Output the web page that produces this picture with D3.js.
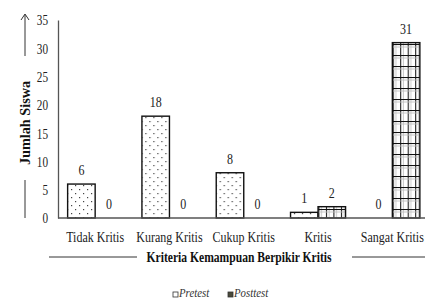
<!doctype html>
<html lang="en">
<head>
  <meta charset="utf-8" />
  <title>Kriteria Kemampuan Berpikir Kritis</title>
  <script src="https://d3js.org/d3.v7.min.js"></script>
  <style>
    body { margin: 0; background: #fff; }
    svg text { font-family: "Liberation Serif", "Times New Roman", Times, "DejaVu Serif", serif; }
  </style>
</head>
<body>
  <figure id="bar-chart" style="margin:0"></figure>
  <script>
    // data
    const categories = ["Tidak Kritis", "Kurang Kritis", "Cukup Kritis", "Kritis", "Sangat Kritis"];
    const pretest = [6, 18, 8, 1, 0];
    const posttest = [0, 0, 0, 2, 31];
    const seriesNames = ["Pretest", "Posttest"];
    const yTicks = [0, 5, 10, 15, 20, 25, 30, 35];

    const params = {
      width: 425,
      height: 306,
      left: 58,
      top: 20,
      bottom: 218,
      step: 74.3,
      squeeze: 0.8 // text in the source is narrow
    };

    const svg = d3.select("#bar-chart").append("svg")
      .attr("width", params.width)
      .attr("height", params.height);

    /* place a horizontally squeezed text */
    function narrowText(sel, x, y) {
      return sel.attr("transform", d =>
        "translate(" + (typeof x === "function" ? x(d) : x) + "," +
        (typeof y === "function" ? y(d) : y) + ") scale(" + params.squeeze + ",1)");
    }

    /* fill patterns: dotted for pretest, grid for posttest */
    const defs = svg.append("defs");
    const dots = defs.append("pattern")
      .attr("id", "dots")
      .attr("patternUnits", "userSpaceOnUse")
      .attr("width", 8).attr("height", 8);
    dots.append("rect").attr("width", 8).attr("height", 8).attr("fill", "#fff");
    dots.append("rect").attr("x", 1).attr("y", 1).attr("width", 1.2).attr("height", 1.2).attr("fill", "#444");
    dots.append("rect").attr("x", 5).attr("y", 5).attr("width", 1.2).attr("height", 1.2).attr("fill", "#444");

    const grid = defs.append("pattern")
      .attr("id", "grid")
      .attr("patternUnits", "userSpaceOnUse")
      .attr("width", 7.5).attr("height", 11);
    grid.append("rect").attr("width", 7.5).attr("height", 11).attr("fill", "#fff");
    grid.append("line").attr("x1", 0.5).attr("x2", 0.5).attr("y1", 0).attr("y2", 11)
      .attr("stroke", "#111").attr("stroke-width", 1.1);
    grid.append("line").attr("x1", 3.2).attr("x2", 3.2).attr("y1", 0).attr("y2", 11)
      .attr("stroke", "#bbb").attr("stroke-width", 0.8);
    grid.append("line").attr("x1", 0).attr("x2", 7.5).attr("y1", 0.5).attr("y2", 0.5)
      .attr("stroke", "#111").attr("stroke-width", 1.1);
    grid.append("line").attr("x1", 0).attr("x2", 7.5).attr("y1", 3).attr("y2", 3)
      .attr("stroke", "#bbb").attr("stroke-width", 0.8);

    const fills = { Pretest: "url(#dots)", Posttest: "url(#grid)" };

    const xScale = d3.scaleBand()
      .domain(categories)
      .range([params.left, params.left + params.step * categories.length]);

    const xInner = d3.scaleBand()
      .domain(seriesNames)
      .range([0, xScale.bandwidth()])
      .paddingInner(0)
      .paddingOuter(0.35);

    const yScale = d3.scaleLinear()
      .domain([0, 35])
      .range([params.bottom, params.top]);

    // y axis
    const yAxis = svg.append("g")
      .attr("transform", "translate(" + params.left + ",0)")
      .call(d3.axisLeft(yScale).tickValues(yTicks).tickSize(0).tickPadding(10));
    yAxis.attr("font-family", null);
    yAxis.select(".domain").attr("stroke", "#555").attr("stroke-width", 1.3);
    yAxis.selectAll("text")
      .attr("font-size", 14)
      .attr("fill", "#222")
      .attr("x", null)
      .attr("dy", "0.35em");
    yAxis.selectAll("text").attr("transform", "translate(-10,0) scale(" + params.squeeze + ",1)");

    // data rows
    const rows = categories.map((c, i) => ({
      category: c,
      values: [
        { series: "Pretest", value: pretest[i] },
        { series: "Posttest", value: posttest[i] }
      ]
    }));

    const groups = svg.selectAll("g.group")
      .data(rows)
      .enter()
      .append("g")
      .attr("class", "group")
      .attr("transform", d => "translate(" + xScale(d.category) + ",0)");

    groups.selectAll("rect")
      .data(d => d.values.filter(v => v.value > 0))
      .enter()
      .append("rect")
      .attr("x", d => xInner(d.series))
      .attr("y", d => yScale(d.value))
      .attr("width", xInner.bandwidth())
      .attr("height", d => yScale(0) - yScale(d.value))
      .attr("fill", d => fills[d.series])
      .attr("stroke", "#111")
      .attr("stroke-width", 1.4);

    groups.selectAll("text.value")
      .data(d => d.values)
      .enter()
      .append("text")
      .attr("class", "value")
      .text(d => d.value)
      .call(narrowText, d => xInner(d.series) + xInner.bandwidth() / 2, d => yScale(d.value) - 9)
      .attr("text-anchor", "middle")
      .attr("font-size", 15)
      .attr("fill", "#222");

    // x axis baseline
    svg.append("line")
      .attr("x1", params.left)
      .attr("x2", params.width)
      .attr("y1", yScale(0))
      .attr("y2", yScale(0))
      .attr("stroke", "#555")
      .attr("stroke-width", 1.3);

    // category labels
    svg.selectAll("text.cat")
      .data(categories)
      .enter()
      .append("text")
      .attr("class", "cat")
      .text(d => d)
      .call(narrowText, d => xScale(d) + xScale.bandwidth() / 2, 242)
      .attr("text-anchor", "middle")
      .attr("font-size", 15)
      .attr("fill", "#222");

    // x title with side rules
    svg.append("text")
      .text("Kriteria Kemampuan Berpikir Kritis")
      .call(narrowText, 239, 262)
      .attr("text-anchor", "middle")
      .attr("font-size", 14.5)
      .attr("font-weight", "bold")
      .attr("fill", "#111");
    svg.append("line").attr("x1", 49).attr("x2", 137).attr("y1", 257).attr("y2", 257)
      .attr("stroke", "#333").attr("stroke-width", 1);
    svg.append("line").attr("x1", 352).attr("x2", params.width).attr("y1", 257).attr("y2", 257)
      .attr("stroke", "#333").attr("stroke-width", 1);

    // y title with arrow
    svg.append("text")
      .text("Jumlah Siswa")
      .attr("transform", "translate(30,123) rotate(-90) scale(0.95,1)")
      .attr("text-anchor", "middle")
      .attr("font-size", 15)
      .attr("font-weight", "bold")
      .attr("fill", "#111");
    svg.append("line").attr("x1", 25).attr("x2", 25).attr("y1", 15).attr("y2", 56)
      .attr("stroke", "#333").attr("stroke-width", 1);
    svg.append("path").attr("d", "M21,20 L25,14 L29,20")
      .attr("fill", "none").attr("stroke", "#333").attr("stroke-width", 1);
    svg.append("line").attr("x1", 25).attr("x2", 25).attr("y1", 180).attr("y2", 218)
      .attr("stroke", "#333").attr("stroke-width", 1);

    // legend
    const legend = svg.append("g").attr("transform", "translate(173,297)");
    const legendItems = legend.selectAll("g")
      .data(seriesNames)
      .enter()
      .append("g")
      .attr("transform", (d, i) => "translate(" + (i * 55) + ",0)");
    legendItems.append("rect")
      .attr("x", 0).attr("y", -5)
      .attr("width", 5).attr("height", 5)
      .attr("fill", d => d === "Pretest" ? "#fff" : "#4a4a3a")
      .attr("stroke", "#333")
      .attr("stroke-width", 0.8);
    legendItems.append("text")
      .text(d => d)
      .call(narrowText, 6, 0)
      .attr("font-size", 13.5)
      .attr("font-style", "italic")
      .attr("fill", "#333");
  </script>
</body>
</html>
